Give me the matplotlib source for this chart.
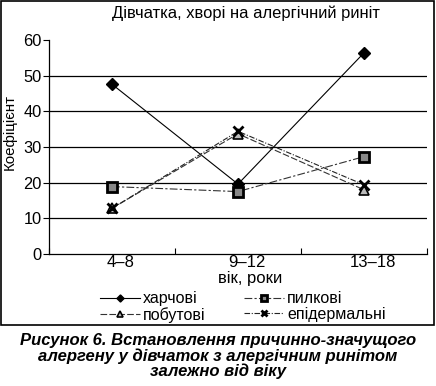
import matplotlib.pyplot as plt
import matplotlib.transforms as mtransforms
from matplotlib.patches import Rectangle

plt.rcParams['font.family'] = ['Liberation Sans', 'DejaVu Sans']

ages = ['4–8', '9–12', '13–18']
food = [47.6, 19.6, 56.4]
pollen = [18.9, 17.5, 27.3]
house = [12.8, 33.7, 18.0]
epiderm = [12.8, 34.4, 19.4]
yticks = [0, 10, 20, 30, 40, 50, 60]

W, H = 436, 386
fig = plt.figure(figsize=(W / 100, H / 100), dpi=100)
ax = fig.add_axes([49 / W, 1 - 254 / H, (427 - 49) / W, (254 - 40) / H])

x = range(len(ages))
l_food, = ax.plot(x, food, '-', color='black', lw=0.8, marker='D', ms=6,
                  mfc='black', mec='black', label='харчові')
l_pollen, = ax.plot(x, pollen, color='#333333', lw=0.8, ls=(0, (7, 2, 2, 2)), marker='s', ms=7,
                    mfc='#888888', mec='black', mew=2, label='пилкові')
l_house, = ax.plot(x, house, color='#333333', lw=0.8, ls=(0, (6, 2)), marker='^', ms=7,
                   mfc='#bbbbbb', mec='black', mew=1.2, label='побутові')
l_epi, = ax.plot(x, epiderm, color='#222222', lw=0.8, ls=(0, (5, 1.5, 1, 1.5)), marker='x', ms=7,
                 mec='black', mew=2, label='епідермальні')

ax.set_xlim(-0.5, 2.5)
ax.set_ylim(0, 60)
ax.set_yticks(yticks)
ax.set_xticks(list(x))
ax.set_xticklabels(ages, fontsize=12)
ax.set_xticks([-0.5, 0.5, 1.5, 2.5], minor=True)
ax.tick_params(axis='x', which='major', length=0, pad=0.5)
ax.tick_params(axis='x', which='minor', length=4, direction='in', width=0.8)
ax.tick_params(axis='y', labelsize=11.8, length=4.3, width=0.8, pad=1)
# the labels in the original sit a bit right of the points
shift = mtransforms.ScaledTranslation(0.09, 0, fig.dpi_scale_trans)
for lab in ax.get_xticklabels():
    lab.set_transform(lab.get_transform() + shift)
for v in yticks[1:-1]:
    ax.axhline(v, color='black', lw=0.9, zorder=0)
for s in ['top', 'right']:
    ax.spines[s].set_visible(False)
ax.spines['left'].set_linewidth(0.9)
ax.spines['bottom'].set_linewidth(0.9)

fig.text(250 / W, 1 - 279 / H, 'вік, роки', ha='center', va='center', fontsize=12)
fig.text(10 / W, 1 - 132 / H, 'Коефіцієнт', rotation=90, ha='center', va='center', fontsize=10.8)
fig.text(246 / W, 1 - 13 / H, 'Дівчатка, хворі на алергічний риніт', ha='center', va='center', fontsize=11.9)

# row-major order as in the original legend
handles = [l_food, l_house, l_pollen, l_epi]
fig.legend(handles, [h.get_label() for h in handles], loc='center left',
           bbox_to_anchor=(100 / W, 1 - 307 / H), ncol=2, frameon=False,
           fontsize=11.5, handlelength=2.5, handletextpad=0.2, columnspacing=2.4,
           labelspacing=0.05, markerscale=0.6, borderpad=0, borderaxespad=0)

fig.patches.append(Rectangle((1 / W, 1 - 325 / H), 433 / W, 324 / H, transform=fig.transFigure,
                             fill=False, ec='black', lw=1.2))

fig.text(218 / W, 1 - 356 / H,
         'Рисунок 6. Встановлення причинно-значущого\nалергену у дівчаток з алергічним ринітом\nзалежно від віку',
         ha='center', va='center', fontsize=12, fontweight='bold', style='italic', linespacing=1.0)

fig.savefig('out.png', dpi=100)
